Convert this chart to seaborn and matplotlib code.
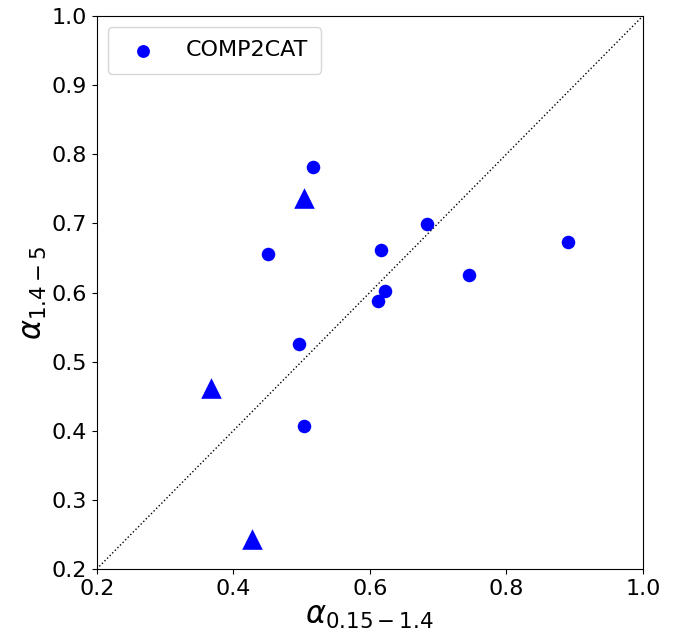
import matplotlib
matplotlib.use("Agg")
import matplotlib.pyplot as plt
import seaborn as sns
import pandas as pd

circ_x = [0.517, 0.451, 0.616, 0.684, 0.745, 0.890, 0.622, 0.612, 0.496, 0.503]
circ_y = [0.782, 0.656, 0.661, 0.699, 0.625, 0.673, 0.602, 0.588, 0.525, 0.407]
tri_x = [0.503, 0.368, 0.427]
tri_y = [0.737, 0.462, 0.243]
label = "COMP2CAT"

fig = plt.figure(figsize=(6.86, 6.42), dpi=100)
ax = fig.add_axes([0.141, 0.1137, 0.796, 0.8613])

df_c = pd.DataFrame({"x": circ_x, "y": circ_y})
df_t = pd.DataFrame({"x": tri_x, "y": tri_y})
sns.scatterplot(data=df_c, x="x", y="y", ax=ax, color="blue", marker="o", s=95,
                linewidth=0, label=label, zorder=3)
sns.scatterplot(data=df_t, x="x", y="y", ax=ax, color="blue", marker="^", s=220,
                linewidth=0, zorder=3)
ax.plot([0.2, 1.0], [0.2, 1.0], linestyle=":", color="black", linewidth=1)

ax.set_xlim(0.2, 1.0)
ax.set_ylim(0.2, 1.0)
ax.set_xticks([0.2, 0.4, 0.6, 0.8, 1.0])
ax.set_yticks([0.2, 0.3, 0.4, 0.5, 0.6, 0.7, 0.8, 0.9, 1.0])
ax.tick_params(labelsize=16)
ax.set_xlabel(r"$\alpha_{0.15-1.4}$", fontsize=22, labelpad=2)
ax.set_ylabel(r"$\alpha_{1.4-5}$", fontsize=22, labelpad=2)
ax.legend(loc="upper left", fontsize=16, borderpad=0.6, handletextpad=0.9,
          markerscale=0.95)

fig.savefig("out.png", dpi=100)
